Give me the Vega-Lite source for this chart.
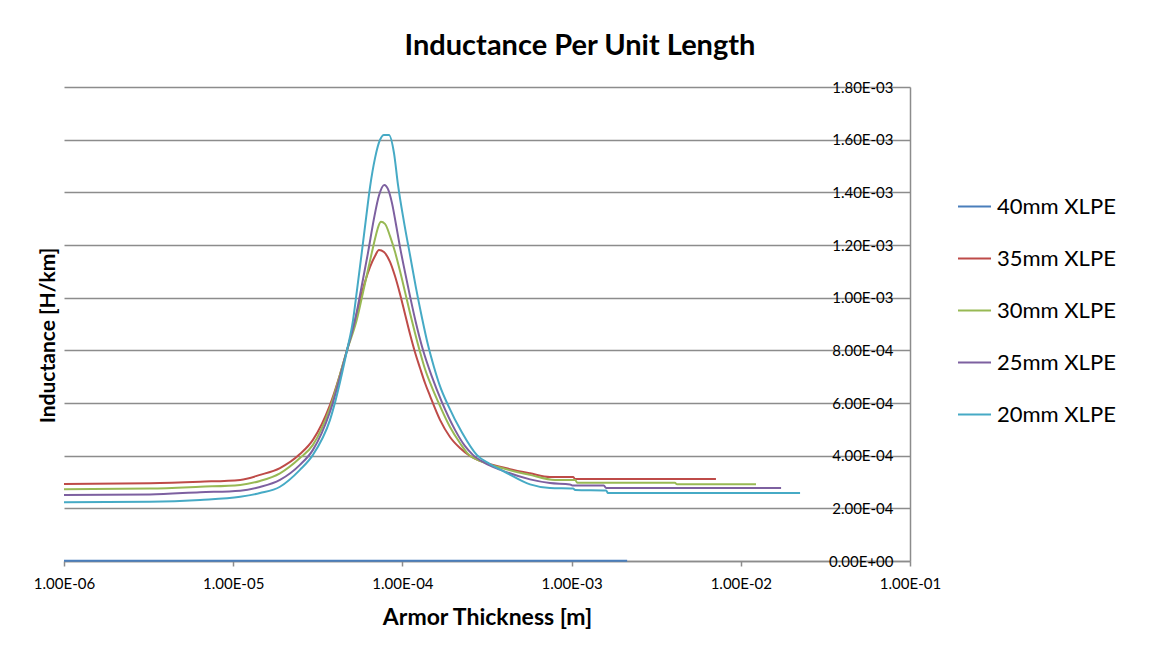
{
 "$schema": "https://vega.github.io/schema/vega-lite/v6.json",
 "width": 846, "height": 474,
 "autosize": {"type": "none"},
 "padding": {"left": 64, "top": 87, "right": 242, "bottom": 89},
 "background": "white",
 "title": {"text": "Inductance Per Unit Length", "fontSize": 29, "font": "Lato", "fontWeight": "bold", "color": "#000000", "anchor": "middle", "dx": 93, "offset": 19},
 "config": {"view": {"stroke": null}, "font": "Lato"},
 "datasets": {
  "d": [
   {"s": "40mm XLPE", "x": 1e-6, "y": 1e-6},
   {"s": "40mm XLPE", "x": 1e-5, "y": 1e-6},
   {"s": "40mm XLPE", "x": 1e-4, "y": 1e-6},
   {"s": "40mm XLPE", "x": 1e-3, "y": 1e-6},
   {"s": "40mm XLPE", "x": 2.13e-3, "y": 1e-6},

   {"s": "35mm XLPE", "x": 1e-6, "y": 2.92e-4},
   {"s": "35mm XLPE", "x": 3.22e-6, "y": 2.95e-4},
   {"s": "35mm XLPE", "x": 6.37e-6, "y": 3.01e-4},
   {"s": "35mm XLPE", "x": 1.10e-5, "y": 3.08e-4},
   {"s": "35mm XLPE", "x": 1.44e-5, "y": 3.27e-4},
   {"s": "35mm XLPE", "x": 1.89e-5, "y": 3.53e-4},
   {"s": "35mm XLPE", "x": 2.48e-5, "y": 4.06e-4},
   {"s": "35mm XLPE", "x": 2.96e-5, "y": 4.60e-4},
   {"s": "35mm XLPE", "x": 3.73e-5, "y": 5.92e-4},
   {"s": "35mm XLPE", "x": 4.71e-5, "y": 8.01e-4},
   {"s": "35mm XLPE", "x": 5.11e-5, "y": 8.85e-4},
   {"s": "35mm XLPE", "x": 5.55e-5, "y": 9.76e-4},
   {"s": "35mm XLPE", "x": 6.01e-5, "y": 1.060e-3},
   {"s": "35mm XLPE", "x": 6.44e-5, "y": 1.117e-3},
   {"s": "35mm XLPE", "x": 6.89e-5, "y": 1.158e-3},
   {"s": "35mm XLPE", "x": 7.27e-5, "y": 1.181e-3},
   {"s": "35mm XLPE", "x": 7.78e-5, "y": 1.173e-3},
   {"s": "35mm XLPE", "x": 8.45e-5, "y": 1.136e-3},
   {"s": "35mm XLPE", "x": 9.04e-5, "y": 1.082e-3},
   {"s": "35mm XLPE", "x": 9.68e-5, "y": 1.014e-3},
   {"s": "35mm XLPE", "x": 1.036e-4, "y": 9.38e-4},
   {"s": "35mm XLPE", "x": 1.109e-4, "y": 8.62e-4},
   {"s": "35mm XLPE", "x": 1.187e-4, "y": 7.93e-4},
   {"s": "35mm XLPE", "x": 1.271e-4, "y": 7.33e-4},
   {"s": "35mm XLPE", "x": 1.360e-4, "y": 6.76e-4},
   {"s": "35mm XLPE", "x": 1.456e-4, "y": 6.27e-4},
   {"s": "35mm XLPE", "x": 1.668e-4, "y": 5.36e-4},
   {"s": "35mm XLPE", "x": 1.911e-4, "y": 4.71e-4},
   {"s": "35mm XLPE", "x": 2.189e-4, "y": 4.29e-4},
   {"s": "35mm XLPE", "x": 2.508e-4, "y": 3.99e-4},
   {"s": "35mm XLPE", "x": 2.874e-4, "y": 3.80e-4},
   {"s": "35mm XLPE", "x": 3.774e-4, "y": 3.58e-4},
   {"s": "35mm XLPE", "x": 5.68e-4, "y": 3.33e-4},
   {"s": "35mm XLPE", "x": 7.45e-4, "y": 3.19e-4},
   {"s": "35mm XLPE", "x": 1.02e-3, "y": 3.19e-4},
   {"s": "35mm XLPE", "x": 1.05e-3, "y": 3.11e-4},
   {"s": "35mm XLPE", "x": 7.13e-3, "y": 3.11e-4},

   {"s": "30mm XLPE", "x": 1e-6, "y": 2.72e-4},
   {"s": "30mm XLPE", "x": 3.22e-6, "y": 2.75e-4},
   {"s": "30mm XLPE", "x": 6.37e-6, "y": 2.82e-4},
   {"s": "30mm XLPE", "x": 1.10e-5, "y": 2.89e-4},
   {"s": "30mm XLPE", "x": 1.44e-5, "y": 3.04e-4},
   {"s": "30mm XLPE", "x": 1.89e-5, "y": 3.33e-4},
   {"s": "30mm XLPE", "x": 2.48e-5, "y": 3.91e-4},
   {"s": "30mm XLPE", "x": 2.96e-5, "y": 4.41e-4},
   {"s": "30mm XLPE", "x": 3.73e-5, "y": 5.81e-4},
   {"s": "30mm XLPE", "x": 4.71e-5, "y": 8.01e-4},
   {"s": "30mm XLPE", "x": 5.37e-5, "y": 9.15e-4},
   {"s": "30mm XLPE", "x": 5.93e-5, "y": 1.037e-3},
   {"s": "30mm XLPE", "x": 6.59e-5, "y": 1.170e-3},
   {"s": "30mm XLPE", "x": 6.98e-5, "y": 1.238e-3},
   {"s": "30mm XLPE", "x": 7.22e-5, "y": 1.272e-3},
   {"s": "30mm XLPE", "x": 7.47e-5, "y": 1.288e-3},
   {"s": "30mm XLPE", "x": 7.89e-5, "y": 1.280e-3},
   {"s": "30mm XLPE", "x": 8.45e-5, "y": 1.234e-3},
   {"s": "30mm XLPE", "x": 9.04e-5, "y": 1.174e-3},
   {"s": "30mm XLPE", "x": 9.68e-5, "y": 1.101e-3},
   {"s": "30mm XLPE", "x": 1.036e-4, "y": 1.022e-3},
   {"s": "30mm XLPE", "x": 1.109e-4, "y": 9.42e-4},
   {"s": "30mm XLPE", "x": 1.187e-4, "y": 8.66e-4},
   {"s": "30mm XLPE", "x": 1.271e-4, "y": 7.94e-4},
   {"s": "30mm XLPE", "x": 1.360e-4, "y": 7.29e-4},
   {"s": "30mm XLPE", "x": 1.483e-4, "y": 6.65e-4},
   {"s": "30mm XLPE", "x": 1.617e-4, "y": 6.08e-4},
   {"s": "30mm XLPE", "x": 1.911e-4, "y": 5.09e-4},
   {"s": "30mm XLPE", "x": 2.189e-4, "y": 4.48e-4},
   {"s": "30mm XLPE", "x": 2.44e-4, "y": 4.07e-4},
   {"s": "30mm XLPE", "x": 2.874e-4, "y": 3.80e-4},
   {"s": "30mm XLPE", "x": 3.774e-4, "y": 3.55e-4},
   {"s": "30mm XLPE", "x": 5.68e-4, "y": 3.27e-4},
   {"s": "30mm XLPE", "x": 7.98e-4, "y": 3.08e-4},
   {"s": "30mm XLPE", "x": 1.05e-3, "y": 3.08e-4},
   {"s": "30mm XLPE", "x": 1.08e-3, "y": 2.97e-4},
   {"s": "30mm XLPE", "x": 4.08e-3, "y": 2.97e-4},
   {"s": "30mm XLPE", "x": 4.20e-3, "y": 2.91e-4},
   {"s": "30mm XLPE", "x": 1.23e-2, "y": 2.91e-4},

   {"s": "25mm XLPE", "x": 1e-6, "y": 2.51e-4},
   {"s": "25mm XLPE", "x": 3.22e-6, "y": 2.53e-4},
   {"s": "25mm XLPE", "x": 6.37e-6, "y": 2.61e-4},
   {"s": "25mm XLPE", "x": 1.10e-5, "y": 2.67e-4},
   {"s": "25mm XLPE", "x": 1.44e-5, "y": 2.81e-4},
   {"s": "25mm XLPE", "x": 1.89e-5, "y": 3.08e-4},
   {"s": "25mm XLPE", "x": 2.48e-5, "y": 3.65e-4},
   {"s": "25mm XLPE", "x": 2.96e-5, "y": 4.22e-4},
   {"s": "25mm XLPE", "x": 3.73e-5, "y": 5.66e-4},
   {"s": "25mm XLPE", "x": 4.71e-5, "y": 8.01e-4},
   {"s": "25mm XLPE", "x": 5.25e-5, "y": 9.15e-4},
   {"s": "25mm XLPE", "x": 5.69e-5, "y": 1.029e-3},
   {"s": "25mm XLPE", "x": 6.26e-5, "y": 1.170e-3},
   {"s": "25mm XLPE", "x": 6.80e-5, "y": 1.302e-3},
   {"s": "25mm XLPE", "x": 7.27e-5, "y": 1.388e-3},
   {"s": "25mm XLPE", "x": 7.82e-5, "y": 1.428e-3},
   {"s": "25mm XLPE", "x": 8.22e-5, "y": 1.412e-3},
   {"s": "25mm XLPE", "x": 8.68e-5, "y": 1.359e-3},
   {"s": "25mm XLPE", "x": 9.16e-5, "y": 1.279e-3},
   {"s": "25mm XLPE", "x": 9.68e-5, "y": 1.192e-3},
   {"s": "25mm XLPE", "x": 1.036e-4, "y": 1.097e-3},
   {"s": "25mm XLPE", "x": 1.109e-4, "y": 1.006e-3},
   {"s": "25mm XLPE", "x": 1.200e-4, "y": 9.07e-4},
   {"s": "25mm XLPE", "x": 1.324e-4, "y": 8.01e-4},
   {"s": "25mm XLPE", "x": 1.496e-4, "y": 6.99e-4},
   {"s": "25mm XLPE", "x": 1.707e-4, "y": 6.05e-4},
   {"s": "25mm XLPE", "x": 2.05e-4, "y": 4.97e-4},
   {"s": "25mm XLPE", "x": 2.34e-4, "y": 4.37e-4},
   {"s": "25mm XLPE", "x": 2.61e-4, "y": 4.03e-4},
   {"s": "25mm XLPE", "x": 3.08e-4, "y": 3.72e-4},
   {"s": "25mm XLPE", "x": 3.774e-4, "y": 3.47e-4},
   {"s": "25mm XLPE", "x": 5.68e-4, "y": 3.10e-4},
   {"s": "25mm XLPE", "x": 7.45e-4, "y": 2.96e-4},
   {"s": "25mm XLPE", "x": 9.78e-4, "y": 2.905e-4},
   {"s": "25mm XLPE", "x": 1.01e-3, "y": 2.87e-4},
   {"s": "25mm XLPE", "x": 1.55e-3, "y": 2.87e-4},
   {"s": "25mm XLPE", "x": 1.60e-3, "y": 2.77e-4},
   {"s": "25mm XLPE", "x": 1.73e-2, "y": 2.77e-4},

   {"s": "20mm XLPE", "x": 1e-6, "y": 2.23e-4},
   {"s": "20mm XLPE", "x": 3.22e-6, "y": 2.25e-4},
   {"s": "20mm XLPE", "x": 6.37e-6, "y": 2.32e-4},
   {"s": "20mm XLPE", "x": 1.10e-5, "y": 2.44e-4},
   {"s": "20mm XLPE", "x": 1.44e-5, "y": 2.58e-4},
   {"s": "20mm XLPE", "x": 1.89e-5, "y": 2.82e-4},
   {"s": "20mm XLPE", "x": 2.48e-5, "y": 3.46e-4},
   {"s": "20mm XLPE", "x": 2.96e-5, "y": 4.03e-4},
   {"s": "20mm XLPE", "x": 3.73e-5, "y": 5.35e-4},
   {"s": "20mm XLPE", "x": 4.71e-5, "y": 8.01e-4},
   {"s": "20mm XLPE", "x": 5.11e-5, "y": 9.15e-4},
   {"s": "20mm XLPE", "x": 5.39e-5, "y": 1.029e-3},
   {"s": "20mm XLPE", "x": 5.75e-5, "y": 1.170e-3},
   {"s": "20mm XLPE", "x": 6.10e-5, "y": 1.303e-3},
   {"s": "20mm XLPE", "x": 6.44e-5, "y": 1.421e-3},
   {"s": "20mm XLPE", "x": 6.89e-5, "y": 1.530e-3},
   {"s": "20mm XLPE", "x": 7.37e-5, "y": 1.599e-3},
   {"s": "20mm XLPE", "x": 7.78e-5, "y": 1.618e-3},
   {"s": "20mm XLPE", "x": 8.33e-5, "y": 1.618e-3},
   {"s": "20mm XLPE", "x": 8.92e-5, "y": 1.549e-3},
   {"s": "20mm XLPE", "x": 9.42e-5, "y": 1.428e-3},
   {"s": "20mm XLPE", "x": 1.022e-4, "y": 1.287e-3},
   {"s": "20mm XLPE", "x": 1.109e-4, "y": 1.162e-3},
   {"s": "20mm XLPE", "x": 1.203e-4, "y": 1.037e-3},
   {"s": "20mm XLPE", "x": 1.306e-4, "y": 9.23e-4},
   {"s": "20mm XLPE", "x": 1.417e-4, "y": 8.20e-4},
   {"s": "20mm XLPE", "x": 1.538e-4, "y": 7.36e-4},
   {"s": "20mm XLPE", "x": 1.668e-4, "y": 6.64e-4},
   {"s": "20mm XLPE", "x": 1.860e-4, "y": 5.92e-4},
   {"s": "20mm XLPE", "x": 2.25e-4, "y": 4.88e-4},
   {"s": "20mm XLPE", "x": 2.75e-4, "y": 4.03e-4},
   {"s": "20mm XLPE", "x": 3.293e-4, "y": 3.68e-4},
   {"s": "20mm XLPE", "x": 4.04e-4, "y": 3.38e-4},
   {"s": "20mm XLPE", "x": 5.68e-4, "y": 2.91e-4},
   {"s": "20mm XLPE", "x": 7.45e-4, "y": 2.77e-4},
   {"s": "20mm XLPE", "x": 1.02e-3, "y": 2.75e-4},
   {"s": "20mm XLPE", "x": 1.05e-3, "y": 2.70e-4},
   {"s": "20mm XLPE", "x": 1.60e-3, "y": 2.68e-4},
   {"s": "20mm XLPE", "x": 1.64e-3, "y": 2.58e-4},
   {"s": "20mm XLPE", "x": 2.24e-2, "y": 2.58e-4}
  ]
 },
 "data": {"name": "d"},
 "mark": {"type": "line", "strokeWidth": 2, "interpolate": "monotone"},
 "encoding": {
  "x": {"field": "x", "type": "quantitative",
   "scale": {"type": "log", "domain": [1e-6, 0.1], "nice": false},
   "axis": {"title": "Armor Thickness [m]", "values": [1e-6, 1e-5, 1e-4, 1e-3, 1e-2, 1e-1],
    "labelExpr": "replace(replace(format(datum.value,'.2e'),'e-','E-0'),'e+','E+0')",
    "grid": false, "domainColor": "#8c8c8c", "domainWidth": 1.5, "tickColor": "#8c8c8c", "tickSize": 5, "tickWidth": 1.5,
    "labelFontSize": 15, "labelColor": "#000000", "labelPadding": 10, "labelFont": "Lato", "labelFlush": false, "labelOverlap": false,
    "titleFontSize": 23, "titleFontWeight": "bold", "titleColor": "#000000", "titleFont": "Lato", "titlePadding": 15, "zindex": 0}},
  "y": {"field": "y", "type": "quantitative",
   "scale": {"domain": [0, 0.0018], "nice": false},
   "axis": {"orient": "right", "title": "Inductance [H/km]", "values": [0, 0.0002, 0.0004, 0.0006, 0.0008, 0.001, 0.0012, 0.0014, 0.0016, 0.0018],
    "labelExpr": "replace(replace(format(datum.value,'.2e'),'e-','E-0'),'e+','E+0')",
    "grid": true, "gridColor": "#8c8c8c", "gridWidth": 1.5, "ticks": false, "tickSize": 0,
    "domainColor": "#8c8c8c", "domainWidth": 1.5,
    "labelAlign": "right", "labelBaseline": "middle", "labelPadding": -17, "labelFontSize": 15, "labelColor": "#000000", "labelFont": "Lato", "labelFlush": false, "labelOverlap": false,
    "titleAngle": 270, "titleX": -862, "titleY": 248, "titleAlign": "center", "titleBaseline": "middle",
    "titleFontSize": 21, "titleFontWeight": "bold", "titleColor": "#000000", "titleFont": "Lato", "zindex": 0}},
  "color": {"field": "s", "type": "nominal",
   "scale": {"domain": ["40mm XLPE", "35mm XLPE", "30mm XLPE", "25mm XLPE", "20mm XLPE"],
             "range": ["#4A7EBB", "#BE4B48", "#98B954", "#7D60A0", "#46AAC5"]},
   "legend": {"title": null, "orient": "none", "legendX": 893, "legendY": 102, "symbolType": "stroke", "symbolSize": 1089, "symbolStrokeWidth": 2,
    "labelFontSize": 22, "labelFont": "Lato", "labelColor": "#000000", "labelOffset": 5, "rowPadding": 23, "padding": 0}}
 }
}
